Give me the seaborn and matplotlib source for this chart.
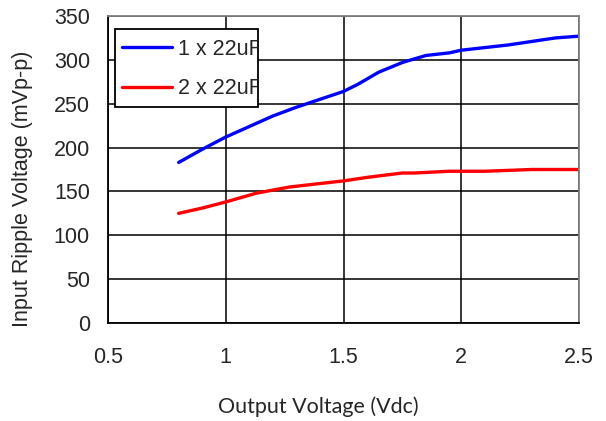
import pandas as pd
import matplotlib
matplotlib.use("Agg")
import matplotlib.pyplot as plt
from matplotlib.patches import Rectangle
import seaborn as sns

vout_1 = [0.8, 0.9, 1.0, 1.1, 1.2, 1.3, 1.4, 1.5, 1.56, 1.65, 1.75, 1.85, 1.95, 2.0, 2.1, 2.2, 2.3, 2.4, 2.5]
ripple_1 = [183, 198, 212, 224, 236, 246, 255, 264, 272, 286, 297, 305, 308, 311, 314, 317, 321, 325, 327]
vout_2 = [0.8, 0.9, 1.0, 1.13, 1.27, 1.4, 1.5, 1.6, 1.75, 1.8, 1.95, 2.1, 2.3, 2.5]
ripple_2 = [125, 131, 138, 148, 155, 159, 162, 166, 171, 171, 173, 173, 175, 175]
labels = ["1 x 22uF", "2 x 22uF"]
colors = ["#0000ff", "#ff0000"]

df = pd.concat([
    pd.DataFrame({"vout": vout_1, "ripple": ripple_1, "cap": labels[0]}),
    pd.DataFrame({"vout": vout_2, "ripple": ripple_2, "cap": labels[1]}),
])

sns.set_style("white")
plt.rcParams["font.family"] = ["Liberation Sans", "DejaVu Sans"]
fs = 15.5

fig = plt.figure(figsize=(6.06, 4.21), dpi=100)
ax = fig.add_axes([108 / 606, 98 / 421, 471 / 606, 307 / 421])

sns.lineplot(data=df, x="vout", y="ripple", hue="cap", palette=colors,
             linewidth=2.4, ax=ax, legend=False, sort=False, estimator=None)

ax.set_xlim(0.5, 2.5)
ax.set_ylim(0, 350)
ax.set_xticks([0.5, 1, 1.5, 2, 2.5])
ax.set_xticklabels(["0.5", "1", "1.5", "2", "2.5"])
ax.set_yticks(range(0, 351, 50))
ax.grid(True, color="black", linewidth=1.1)
ax.tick_params(length=0, labelsize=fs)
ax.tick_params(axis="x", pad=17)
ax.tick_params(axis="y", pad=13)
for side in ["left", "bottom"]:
    ax.spines[side].set_color("black")
    ax.spines[side].set_linewidth(1.3)
for side in ["right", "top"]:
    ax.spines[side].set_color("#808080")
    ax.spines[side].set_linewidth(1.3)

ax.set_ylabel("Input Ripple Voltage (mVp-p)", fontsize=fs)
ax.yaxis.set_label_coords(-0.159, 0.436)
ax.set_xlabel("Output Voltage (Vdc)", fontsize=15.5, family=["Lato", "DejaVu Sans"])
ax.xaxis.set_label_coords(0.447, -0.238)

# legend box that cuts the labels off on the right, like the original
box = Rectangle((115 / 606, (421 - 107) / 421), 143 / 606, 78 / 421,
                transform=fig.transFigure, facecolor="white", edgecolor="black",
                linewidth=1.3, zorder=5)
fig.add_artist(box)
handles = [plt.Line2D([], [], color=c, linewidth=2.4) for c in colors]
leg = fig.legend(handles, labels, loc="upper left",
                 bbox_to_anchor=(122 / 606, (421 - 39) / 421),
                 frameon=False, fontsize=fs, handlelength=2.3,
                 handletextpad=0.28, labelspacing=0.85, borderaxespad=0,
                 borderpad=0)
leg.set_zorder(6)
for t in leg.get_texts():
    t.set_clip_path(box)

fig.savefig("out.png", dpi=100)
